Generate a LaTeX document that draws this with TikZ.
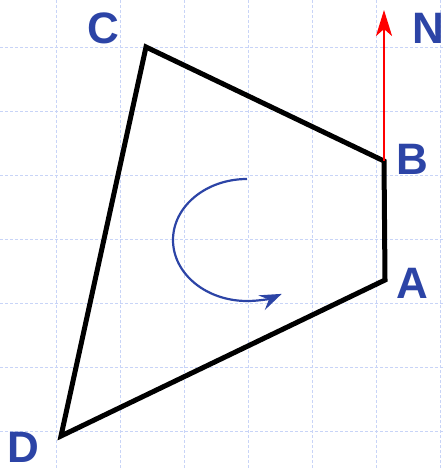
\documentclass[tikz,border=0pt]{standalone}
\usepackage{fontspec}
\setmainfont{Liberation Sans}
\usepackage{xcolor}
\usetikzlibrary{arrows.meta, positioning}

\definecolor{lblblue}{RGB}{44,68,166}
\definecolor{gridblue}{RGB}{200,212,247}

\begin{document}
\begin{tikzpicture}[
x=1pt, y=-1pt,
gridline/.style={draw=gridblue, dash pattern=on 3pt off 2pt, line width=0.8pt},
edge/.style={line width=5pt, black, line join=miter},
lbl/.style={text=lblblue, font=\fontsize{44}{44}\selectfont\bfseries, inner sep=0pt},
northarr/.style={-{Stealth[length=26pt, width=16pt, inset=7pt]}, red, line width=2.6pt},
turnarr/.style={-{Stealth[length=22pt, width=16pt, inset=8pt]}, lblblue, line width=2.2pt}
]
\useasboundingbox (0,0) rectangle (444,470);
% grid
\foreach \gx in {56,120,...,440} \draw[gridline] (\gx,0) -- (\gx,470);
\foreach \gy in {47,111,...,431} \draw[gridline] (0,\gy) -- (444,\gy);

% corners
\coordinate (A) at (385,280);
\coordinate (B) at (384,161);
\coordinate (C) at (146,47);
\coordinate (D) at (61,436);
\coordinate (N) at (384,10);

\draw[edge] (A) -- (B) -- (C) -- (D) -- cycle;
\draw[northarr] (B) -- (N);

% sense of rotation
\draw[turnarr] (247,179) arc[start angle=-90, end angle=-298, x radius=74, y radius=61];

\node[lbl] (labA) at (412,283) {A};
\node[lbl] (labB) at (412,159) {B};
\node[lbl] (labC) at (103,28) {C};
\node[lbl] (labD) at (23,447) {D};
\node[lbl] (labN) at (428,28) {N};
\end{tikzpicture}
\end{document}
